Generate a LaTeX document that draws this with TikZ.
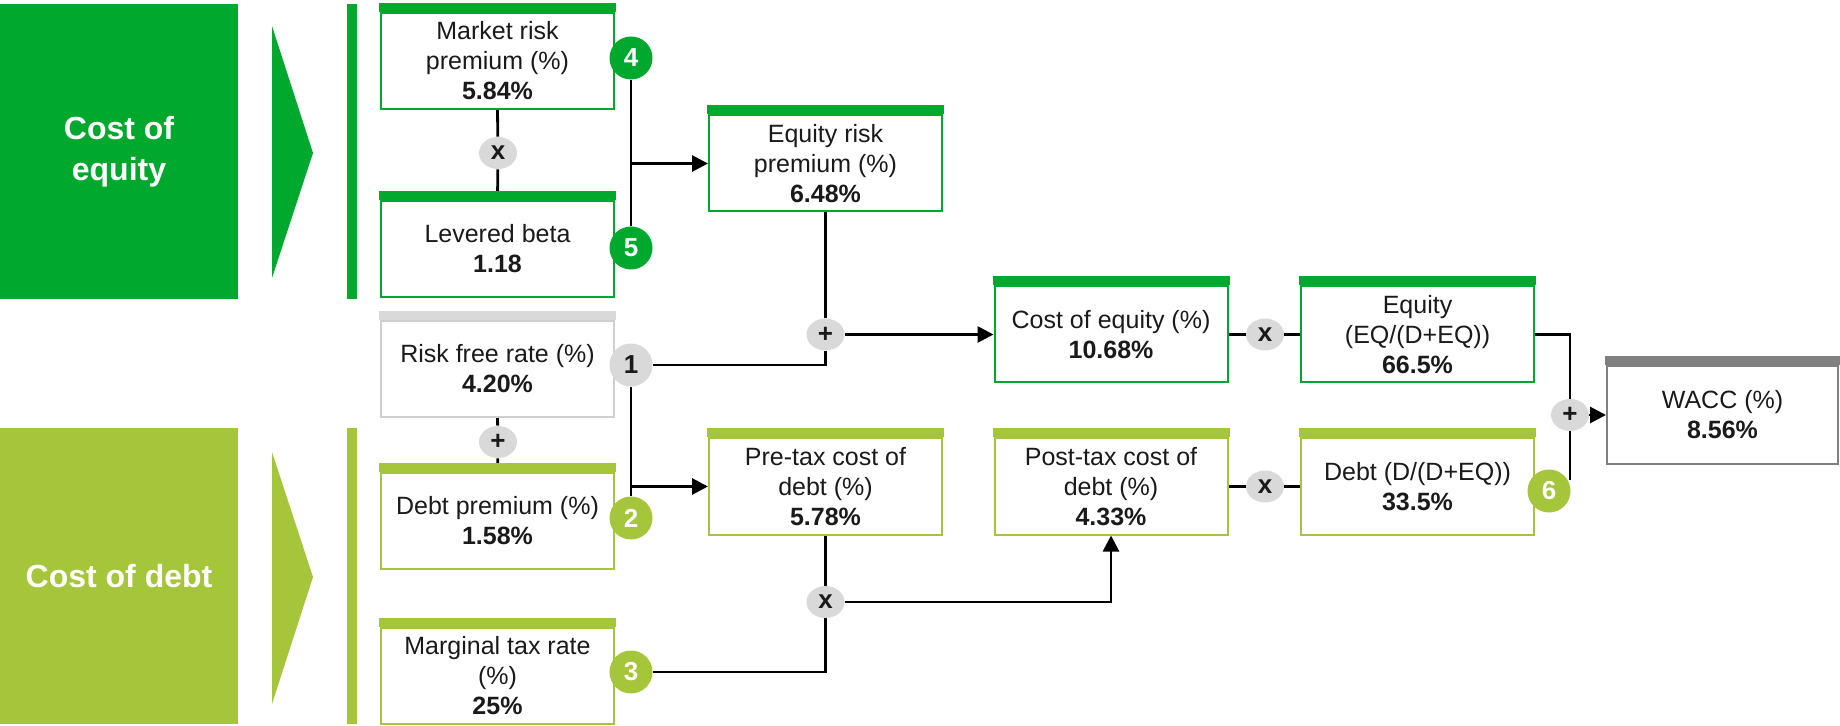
\documentclass[tikz,border=0pt]{standalone}
\usepackage{fontspec}
\setmainfont{Liberation Sans}
\usetikzlibrary{arrows.meta,shapes.geometric,backgrounds}
\definecolor{dkg}{HTML}{00A82D}
\definecolor{ltg}{HTML}{A5C63B}
\definecolor{lgray}{HTML}{D9D9D9}
\definecolor{bgray}{HTML}{CFCFCF}
\definecolor{mgray}{HTML}{808080}
\definecolor{txt}{HTML}{1A1A1A}
\newcommand\topband[2]{\fill[#2] ([xshift=-0.5pt]#1.north west) rectangle ([xshift=0.5pt,yshift=4.5pt]#1.north east);}
\tikzset{
  vbox/.style={draw=#1, line width=1pt, fill=white, minimum width=116.5pt, minimum height=48pt, inner sep=0pt, align=center, font=\fontsize{12.5}{15}\selectfont, text=txt},
  num/.style={circle, fill=#1, minimum size=21.5pt, inner sep=0pt, font=\bfseries\fontsize{13}{15}\selectfont, text=white},
  op/.style={ellipse, fill=lgray, minimum width=19pt, minimum height=16pt, inner sep=0pt, font=\bfseries\fontsize{13}{15}\selectfont, text=txt},
  conn/.style={line width=1.4pt, draw=black},
  arr/.style={conn, -{Triangle[length=8pt,width=8pt]}},
  side/.style={fill=#1, minimum width=119pt, minimum height=147.5pt, inner sep=0pt, align=center, text=white, font=\bfseries\fontsize{16}{20.5}\selectfont},
}
\begin{document}
\begin{tikzpicture}[x=0.5pt,y=-0.5pt]
\useasboundingbox (0,0) rectangle (1840,726);
% side blocks
\node[side=dkg] (ceq) at (119,151.5) {Cost of\\equity};
\node[side=ltg] (cdebt) at (119,576) {Cost of debt};
\fill[dkg] (272,26) -- (313,153) -- (272,278) -- cycle;
\fill[ltg] (272,452) -- (313,577) -- (272,704) -- cycle;
\fill[dkg] (347,4) rectangle (357,299);
\fill[ltg] (347,428) rectangle (357,724);
% boxes
\node[vbox=dkg] (mrp) at (497.5,61) {Market risk\\premium (\%)\\\textbf{5.84\%}};
\node[vbox=dkg] (lb) at (497.5,249) {Levered beta\\\textbf{1.18}};
\node[vbox=bgray] (rf) at (497.5,369) {Risk free rate (\%)\\\textbf{4.20\%}};
\node[vbox=ltg] (dp) at (497.5,521) {Debt premium (\%)\\\textbf{1.58\%}};
\node[vbox=ltg] (mt) at (497.5,676) {Marginal tax rate\\(\%)\\\textbf{25\%}};
\node[vbox=dkg] (erp) at (825.5,163.5) {Equity risk\\premium (\%)\\\textbf{6.48\%}};
\node[vbox=ltg] (ptc) at (825.5,486.5) {Pre-tax cost of\\debt (\%)\\\textbf{5.78\%}};
\node[vbox=dkg] (coe) at (1111,334.5) {Cost of equity (\%)\\\textbf{10.68\%}};
\node[vbox=ltg] (post) at (1111,486.5) {Post-tax cost of\\debt (\%)\\\textbf{4.33\%}};
\node[vbox=dkg] (eq) at (1417.5,334.5) {Equity\\(EQ/(D+EQ))\\\textbf{66.5\%}};
\node[vbox=ltg] (debt) at (1417.5,486.5) {Debt (D/(D+EQ))\\\textbf{33.5\%}};
\node[vbox=mgray, minimum width=115.5pt, minimum height=49pt] (wacc) at (1722.5,415) {WACC (\%)\\\textbf{8.56\%}};
\topband{mrp}{dkg}
\topband{lb}{dkg}
\topband{rf}{lgray}
\topband{dp}{ltg}
\topband{mt}{ltg}
\topband{erp}{dkg}
\topband{ptc}{ltg}
\topband{coe}{dkg}
\topband{post}{ltg}
\topband{eq}{dkg}
\topband{debt}{ltg}
\topband{wacc}{mgray}
% number circles
\node[num=dkg] (c4) at (631,58) {4};
\node[num=dkg] (c5) at (631,248) {5};
\node[num=lgray, text=txt] (c1) at (631,365) {1};
\node[num=ltg] (c2) at (631,518) {2};
\node[num=ltg] (c3) at (631,672) {3};
\node[num=ltg] (c6) at (1549,491) {6};
% operators
\node[op] (x1) at (498,153) {x};
\node[op] (p1) at (498,442) {+};
\node[op] (p2) at (825.5,334.5) {+};
\node[op] (x2) at (825.5,602) {x};
\node[op] (x3) at (1265,334.5) {x};
\node[op] (x4) at (1265,486.5) {x};
\node[op] (p3) at (1570,415) {+};
\coordinate (c6top) at (1570,480);
% connectors
\begin{scope}[on background layer]
\draw[conn] (mrp.south) -- (x1) -- (lb.north);
\draw[conn] (c4.south) -- (c5.north);
\draw[arr] (c4 |- erp.west) -- (erp.west);
\draw[conn] (c1.east) -- (p2 |- c1.east) -- (p2.south);
\draw[conn] (erp.south) -- (p2.north);
\draw[arr] (p2.east) -- (coe.west);
\draw[conn] (c1.south) -- (c2.north);
\draw[arr] (c1 |- ptc.west) -- (ptc.west);
\draw[conn] (rf.south) -- (p1) -- (dp.north);
\draw[conn] (ptc.south) -- (x2) -- (x2 |- c3.east) -- (c3.east);
\draw[arr] (x2.east) -- (post.south |- x2.east) -- (post.south);
\draw[conn] (coe.east) -- (x3) -- (eq.west);
\draw[conn] (post.east) -- (x4) -- (debt.west);
\draw[conn] (eq.east) -- (p3 |- eq.east) -- (p3.north);
\draw[conn] (p3.south) -- (c6top);
\draw[arr] (p3.east) -- (wacc.west);
\end{scope}
\end{tikzpicture}
\end{document}
